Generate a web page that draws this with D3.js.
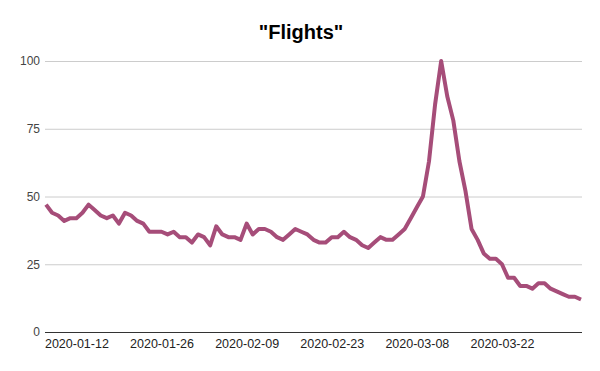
<!DOCTYPE html>
<html>
<head>
<meta charset="utf-8">
<script src="https://cdn.jsdelivr.net/npm/d3@7"></script>
<style>
    body { margin: 0; background: #fff; }
    text { font-family: Arial, 'Liberation Sans', sans-serif; }
</style>
</head>
<body>
<div class="js-chart"></div>
<script>
'use strict';

//chart data, one value per day starting at firstDay
var title = '"Flights"';
var firstDay = '2020-01-07';
var flights = [
    47, 44, 43, 41, 42, 42, 44, 47, 45, 43,
    42, 43, 40, 44, 43, 41, 40, 37, 37, 37,
    36, 37, 35, 35, 33, 36, 35, 32, 39, 36,
    35, 35, 34, 40, 36, 38, 38, 37, 35, 34,
    36, 38, 37, 36, 34, 33, 33, 35, 35, 37,
    35, 34, 32, 31, 33, 35, 34, 34, 36, 38,
    42, 46, 50, 63, 84, 100, 87, 78, 63, 52,
    38, 34, 29, 27, 27, 25, 20, 20, 17, 17,
    16, 18, 18, 16, 15, 14, 13, 13, 12
];
var xTickLabels = ['2020-01-12', '2020-01-26', '2020-02-09', '2020-02-23', '2020-03-08', '2020-03-22'];
var yTicks = [0, 25, 50, 75, 100];

var dim = { w: 600, h: 371 };
var parseDay = d3.timeParse('%Y-%m-%d');
var start = parseDay(firstDay);

var data = flights.map(function (v, i) {
    return { date: d3.timeDay.offset(start, i), value: v };
});

var svg = d3.select('.js-chart')
    .append('svg')
    .attr('width', dim.w)
    .attr('height', dim.h);

var x = d3.scaleTime()
    .domain(d3.extent(data, function (d) { return d.date; }))
    .range([46, 581]);

var y = d3.scaleLinear()
    .domain([0, 100])
    .range([332, 61]);

//title
svg.append('text')
    .attr('x', 301)
    .attr('y', 39)
    .attr('text-anchor', 'middle')
    .style('font-size', '20px')
    .style('font-weight', 'bold')
    .style('fill', '#000')
    .text(title);

//gridlines + y labels
var yAxis = svg.append('g')
    .attr('transform', 'translate(45,0)')
    .call(d3.axisLeft(y)
        .tickValues(yTicks)
        .tickSize(-537)
        .tickPadding(5));
yAxis.select('.domain').remove();
yAxis.selectAll('line')
    .style('stroke', function (d) { return d === 0 ? '#333' : '#ccc'; })
    .attr('stroke-width', 1);
yAxis.selectAll('text')
    .style('font-size', '12px')
    .style('fill', '#444')
    .style('font-family', "Arial, 'Liberation Sans', sans-serif");

//x labels
var xAxis = svg.append('g')
    .attr('transform', 'translate(0,332)')
    .call(d3.axisBottom(x)
        .tickValues(xTickLabels.map(parseDay))
        .tickFormat(d3.timeFormat('%Y-%m-%d'))
        .tickSize(0)
        .tickPadding(7));
xAxis.select('.domain').remove();
xAxis.selectAll('text')
    .style('font-size', '12.5px')
    .style('fill', '#222')
    .style('font-family', "Arial, 'Liberation Sans', sans-serif");

//series line
var line = d3.line()
    .x(function (d) { return x(d.date); })
    .y(function (d) { return y(d.value); });

svg.append('path')
    .datum(data)
    .attr('d', line)
    .style('fill', 'none')
    .style('stroke', '#a64d79')
    .style('stroke-width', 4)
    .style('stroke-linejoin', 'round');
</script>
</body>
</html>
